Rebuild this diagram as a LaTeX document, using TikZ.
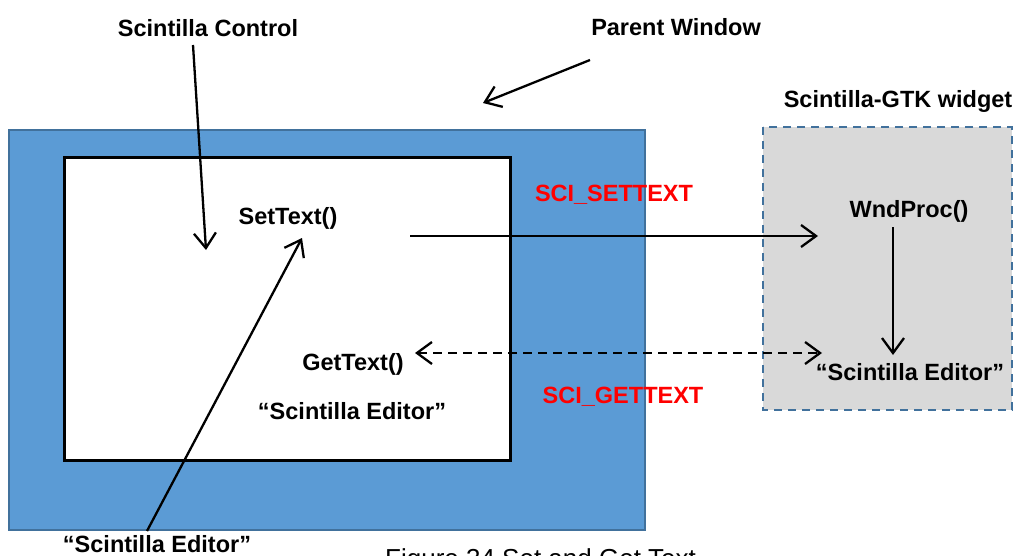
\documentclass[tikz,border=0pt]{standalone}
\usepackage{fontspec}
\setmainfont{Liberation Sans}
\usetikzlibrary{arrows.meta}
\definecolor{pblue}{HTML}{5B9BD5}
\definecolor{pborder}{HTML}{41719C}
\definecolor{pgray}{HTML}{D9D9D9}
\tikzset{
  lbl/.style={font=\fontsize{23.5}{27}\selectfont\bfseries, inner sep=0pt, anchor=base},
  redlbl/.style={lbl, text=red},
  conn/.style={line width=2.3pt, -{Straight Barb[length=15pt,width=22pt]}},
  dconn/.style={line width=2.3pt, dash pattern=on 9pt off 6pt, {Straight Barb[length=15pt,width=22pt]}-{Straight Barb[length=15pt,width=22pt]}},
}
\begin{document}
\begin{tikzpicture}[x=1pt,y=-1pt]
\clip (0,0) rectangle (1017,556);
\fill[white] (0,0) rectangle (1017,556);
% parent window
\draw[fill=pblue, draw=pborder, line width=2pt] (9,130) rectangle (645,530);
% scintilla control
\draw[fill=white, draw=black, line width=3pt] (64,158) rectangle (510,460);
% GTK widget
\draw[fill=pgray, draw=pborder, line width=2pt, dash pattern=on 8pt off 6pt] (763,127) rectangle (1012,410);

% labels
\node[lbl] (ctrl) at (208,37) {Scintilla Control};
\node[lbl] (parent) at (676,36) {Parent Window};
\node[lbl] (gtk) at (898,108) {Scintilla-GTK widget};
\node[redlbl] (setmsg) at (614,201) {SCI\_SETTEXT};
\node[lbl] (settext) at (288,225) {SetText()};
\node[lbl] (wnd) at (909,218) {WndProc()};
\node[lbl] (gettext) at (353,370) {GetText()};
\node[lbl] (ied) at (352,419) {“Scintilla Editor”};
\node[redlbl] (getmsg) at (623,403) {SCI\_GETTEXT};
\node[lbl] (ged) at (910,380) {“Scintilla Editor”};
\node[lbl] (bed) at (157,552) {“Scintilla Editor”};
\node[font=\fontsize{26}{30}\selectfont, inner sep=0pt, anchor=base west] (cap) at (385,567) {Figure 34 Set and Get Text};

% connector end points
\coordinate (ctrlS) at (193,45);
\coordinate (ctrlE) at (206,250);
\coordinate (parS) at (590,60);
\coordinate (parE) at (483,103);
\coordinate (bedS) at (147,531);
\coordinate (setE) at (302,238);
\coordinate (setS) at (410,236);
\coordinate (wndE) at (818,236);
\coordinate (wndS) at (893,227);
\coordinate (gedE) at (893,355);
\coordinate (getL) at (415,353);
\coordinate (getR) at (822,353);

% connectors
\draw[conn] (ctrlS) -- (ctrlE);
\draw[conn] (parS) -- (parE);
\draw[conn] (bedS) -- (setE);
\draw[conn] (setS) -- (wndE);
\draw[conn] (wndS) -- (gedE);
\draw[dconn] (getL) -- (getR);
\end{tikzpicture}
\end{document}
